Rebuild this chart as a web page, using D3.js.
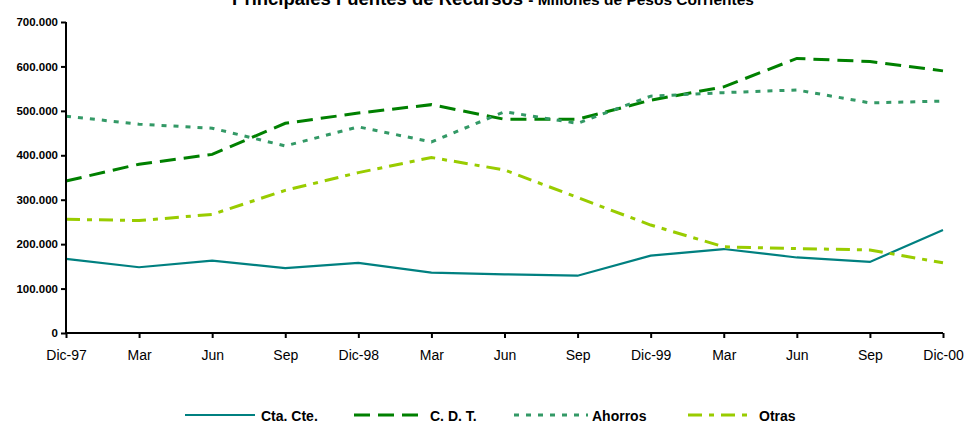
<!DOCTYPE html>
<html>
<head>
<meta charset="utf-8">
<script src="https://cdn.jsdelivr.net/npm/d3@7"></script>
<style>
  body { margin: 0; background: #fff; }
  svg { display: block; font-family: "Liberation Sans", Arial, sans-serif; }
  .tick text { fill: #000; }
</style>
</head>
<body>
<svg width="964" height="421"></svg>
<script>
const periods = ['Dic-97','Mar','Jun','Sep','Dic-98','Mar','Jun','Sep','Dic-99','Mar','Jun','Sep','Dic-00'];
const ctaCte  = [167000,148000,163000,146000,158000,136000,132000,129000,174000,189000,170000,160000,232000];
const cdt     = [342000,380000,402000,472000,495000,514000,481000,481000,524000,554000,618000,611000,590000];
const ahorros = [488000,470000,461000,421000,464000,430000,498000,472000,533000,541000,547000,518000,522000];
const otras   = [256000,253000,267000,321000,361000,395000,367000,305000,243000,194000,190000,187000,158000];
const yTicks  = [0,100000,200000,300000,400000,500000,600000,700000];

const svg = d3.select('svg');

const series = [
  {name: 'Cta. Cte.', values: ctaCte,  color: '#008080', width: 2.2, dash: null},
  {name: 'C. D. T.',  values: cdt,     color: '#008000', width: 3,   dash: '16,8'},
  {name: 'Ahorros',   values: ahorros, color: '#339966', width: 3,   dash: '5,7'},
  {name: 'Otras',     values: otras,   color: '#99CC00', width: 3,   dash: '14,7,5,7'}
];

const xScale = d3.scalePoint()
  .domain(d3.range(periods.length))
  .range([66, 943]);

const yScale = d3.scaleLinear()
  .domain([0, 700000])
  .range([333, 22]);

// title (top of it falls outside the picture, as in the original)
const title = svg.append('text')
  .attr('x', 493)
  .attr('y', 5)
  .attr('text-anchor', 'middle')
  .attr('font-weight', 'bold');
title.append('tspan').attr('font-size', 18.5).text('Principales Fuentes de Recursos ');
title.append('tspan').attr('font-size', 15.5).text('- Millones de Pesos Corrientes');

// lines
const line = d3.line()
  .x((d, i) => xScale(i))
  .y(d => yScale(d));

svg.selectAll('path.series').data(series)
  .enter().append('path')
    .attr('class', 'series')
    .attr('fill', 'none')
    .attr('stroke', d => d.color)
    .attr('stroke-width', d => d.width)
    .attr('stroke-dasharray', d => d.dash)
    .attr('d', d => line(d.values));

// axes
const yAxis = d3.axisLeft(yScale)
  .tickValues(yTicks)
  .tickSize(5)
  .tickPadding(3)
  .tickFormat(d => d3.format(',')(d).replace(/,/g, '.'));

const yAxisG = svg.append('g')
  .attr('transform', 'translate(66,0)')
  .call(yAxis);
yAxisG.selectAll('text').attr('font-size', 11.5).attr('font-weight', 'bold');

const xAxis = d3.axisBottom(xScale)
  .tickSize(5)
  .tickPadding(12)
  .tickFormat(i => periods[i]);

const xAxisG = svg.append('g')
  .attr('transform', 'translate(0,333)')
  .call(xAxis);
xAxisG.selectAll('text')
  .attr('font-family', '"Liberation Sans Narrow", "Liberation Sans", Arial, sans-serif')
  .style('font-size', '14px');

svg.selectAll('.domain, .tick line')
  .attr('stroke', '#000')
  .attr('stroke-width', 2);
xAxisG.select('.domain').attr('d', 'M66,0H943');
yAxisG.select('.domain').attr('d', 'M0,22V333');

// legend
const legendPos = [[185, 255, 261], [354, 421, 430], [514, 588, 592], [688, 753, 759]];
const legend = svg.selectAll('g.legend').data(series)
  .enter().append('g')
    .attr('class', 'legend');

legend.append('line')
  .attr('x1', (d, i) => legendPos[i][0])
  .attr('x2', (d, i) => legendPos[i][1])
  .attr('y1', 415)
  .attr('y2', 415)
  .attr('stroke', d => d.color)
  .attr('stroke-width', d => d.width)
  .attr('stroke-dasharray', d => d.dash);

legend.append('text')
  .attr('x', (d, i) => legendPos[i][2])
  .attr('y', 421)
  .attr('font-size', 14)
  .attr('font-weight', 'bold')
  .text(d => d.name);
</script>
</body>
</html>
